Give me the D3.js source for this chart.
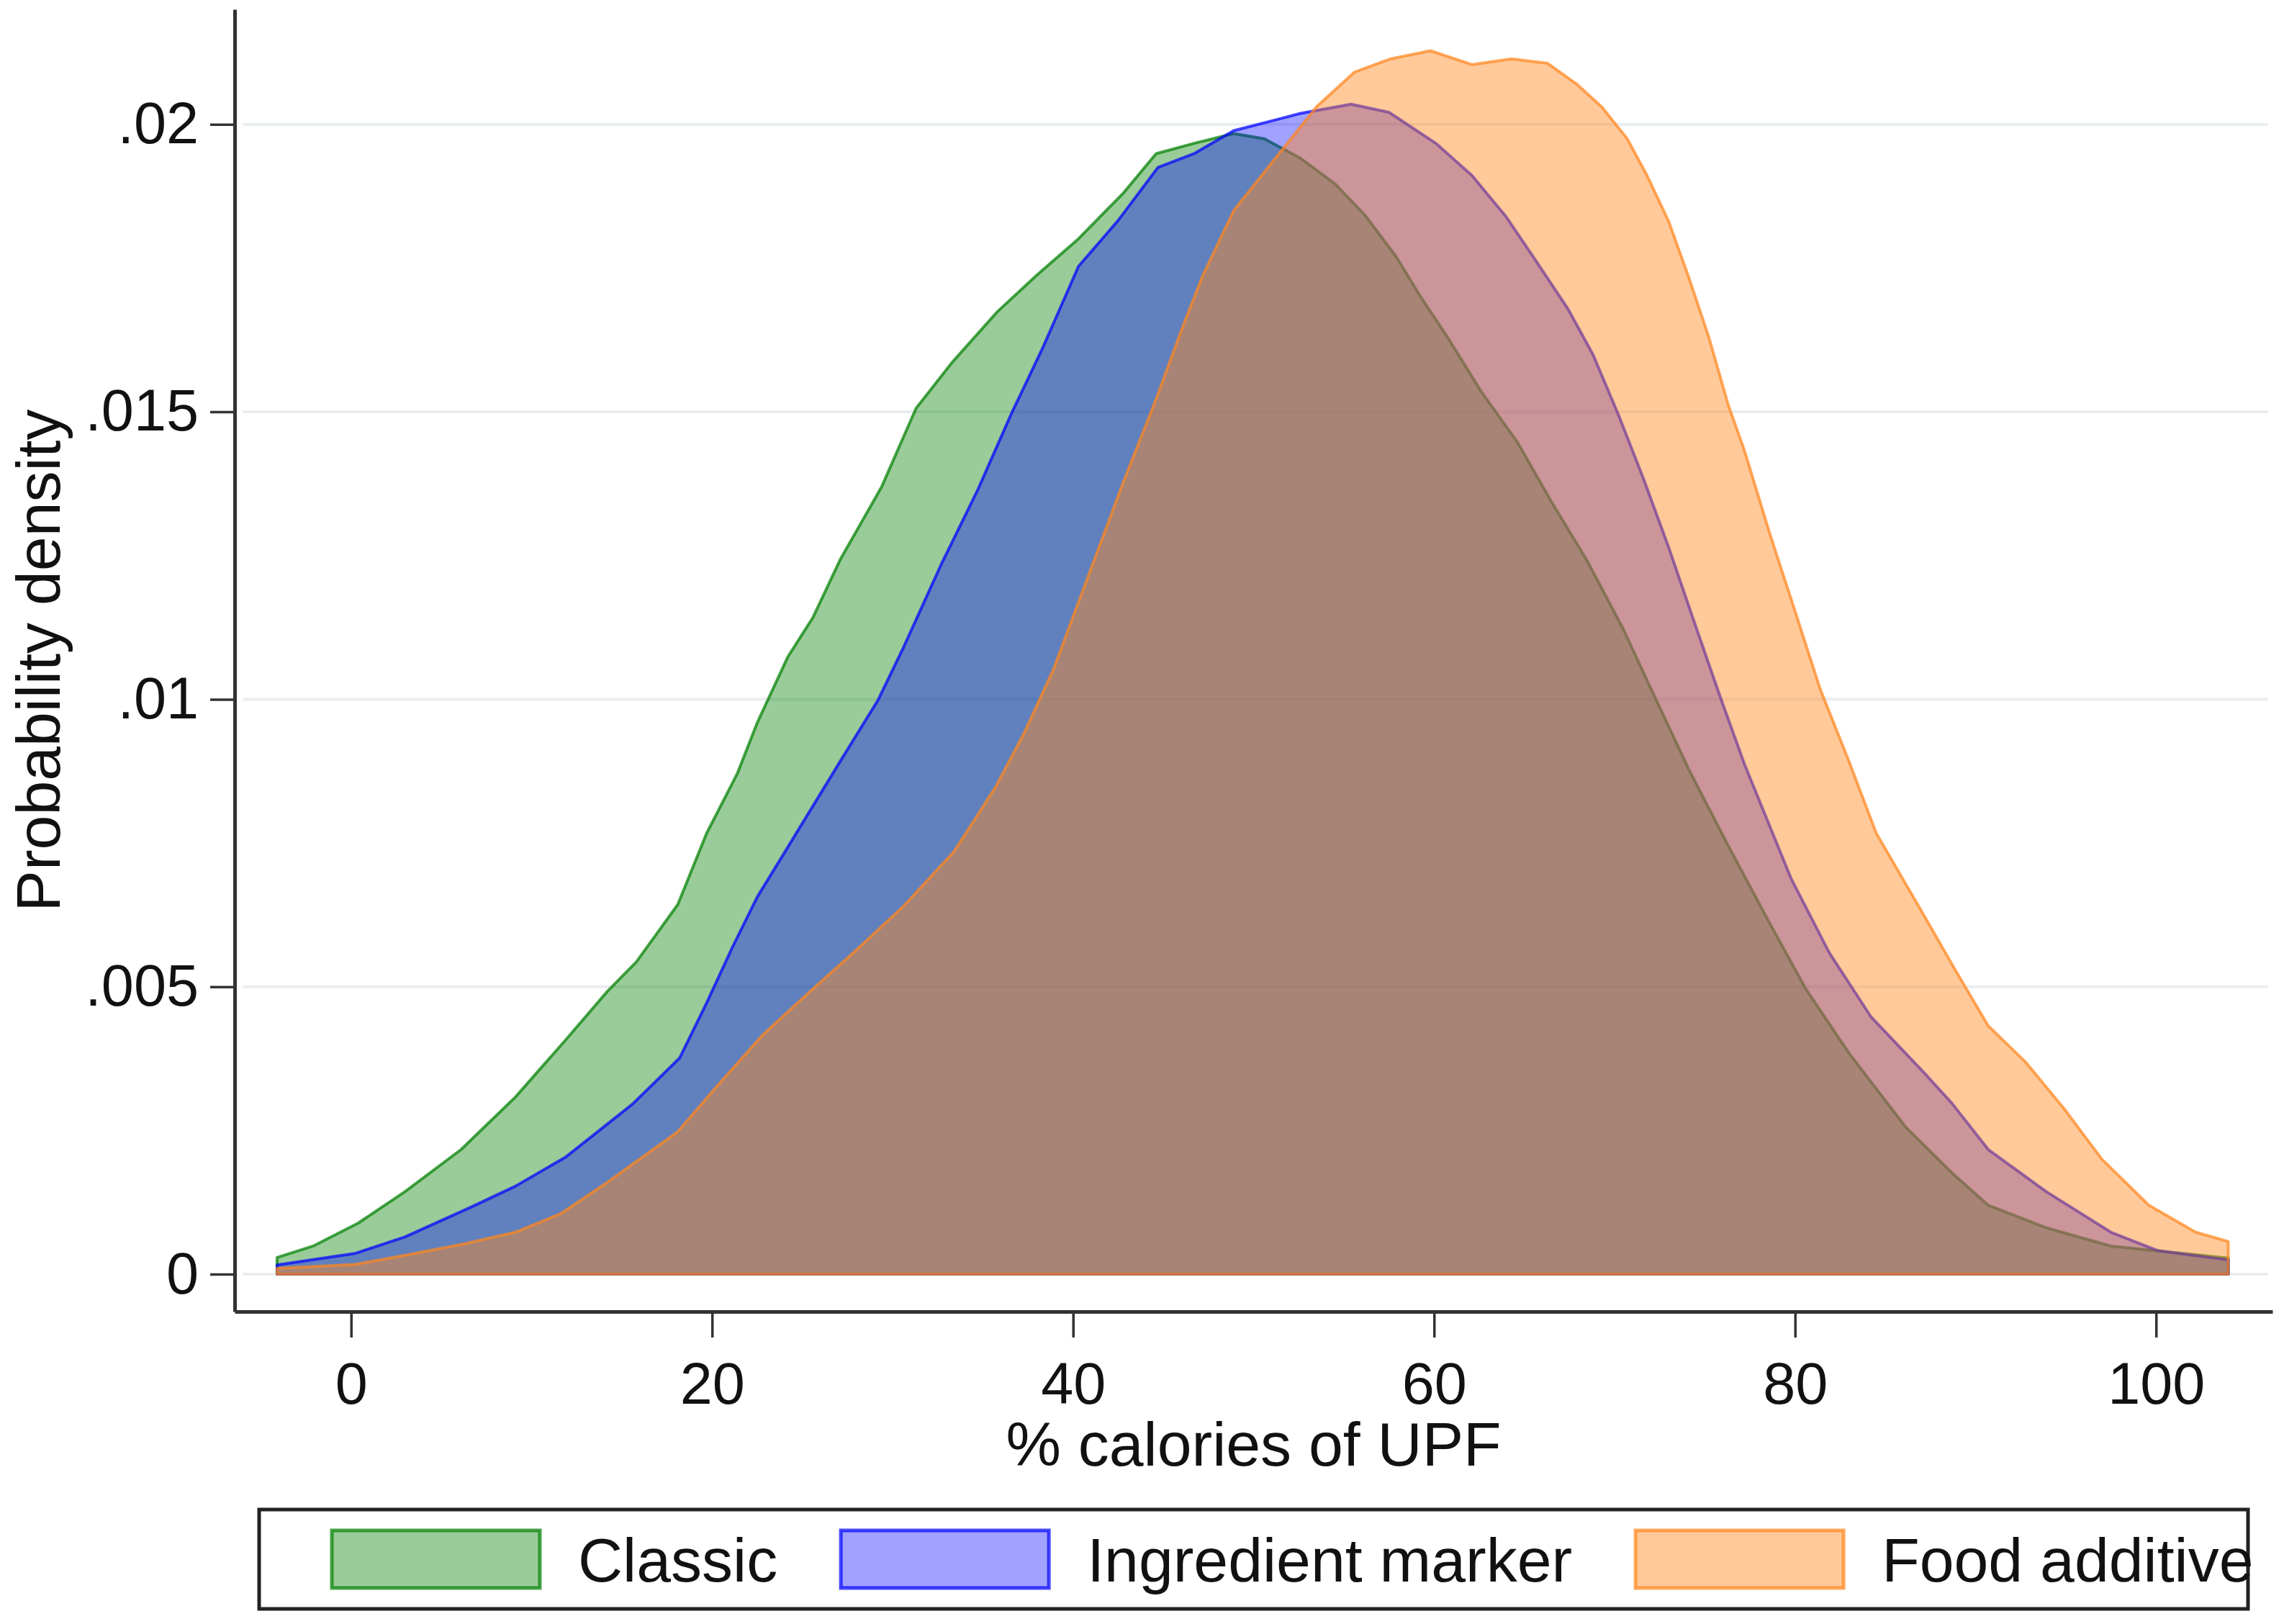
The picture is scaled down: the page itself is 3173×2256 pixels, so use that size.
<!DOCTYPE html>
<html>
<head>
<meta charset="utf-8">
<script src="https://cdn.jsdelivr.net/npm/d3@7"></script>
<style>
  body { margin: 0; background: #fff; }
  svg { display: block; font-family: "Liberation Sans", Arial, sans-serif; }
</style>
</head>
<body>
<div id="chart"></div>
<script>
/* DATA */
const seriesNames = ["Classic", "Ingredient marker", "Food additive"];
const seriesColors = ["rgb(0,128,0)", "rgb(0,0,255)", "rgb(255,135,30)"];
const seriesOpacity = [0.4, 0.37, 0.45];

const classicX = [-4.1, -2.1, 0.4, 3.0, 6.1, 9.1, 11.9, 14.2, 15.8, 18.1, 19.7, 21.4, 22.5, 24.2, 25.6, 27.1, 29.4, 31.3, 33.3, 35.8, 38.0, 40.3, 42.8, 44.6, 46.7, 48.9, 50.6, 52.6, 54.5, 56.2, 57.9, 59.3, 60.7, 62.6, 64.6, 66.5, 68.5, 70.5, 71.8, 74.1, 76.2, 78.5, 80.6, 83.0, 86.1, 88.7, 90.7, 93.9, 97.5, 104.0];
const classicY = [0.00029, 0.00049, 0.00089, 0.00144, 0.00217, 0.00308, 0.00408, 0.00492, 0.00543, 0.00643, 0.00767, 0.00871, 0.00959, 0.01074, 0.01143, 0.01243, 0.01370, 0.01506, 0.01586, 0.01674, 0.01738, 0.01801, 0.01881, 0.01949, 0.01967, 0.01984, 0.01975, 0.01941, 0.01897, 0.01841, 0.01770, 0.01698, 0.01632, 0.01536, 0.01448, 0.01344, 0.01240, 0.01121, 0.01033, 0.00879, 0.00751, 0.00616, 0.00496, 0.00384, 0.00257, 0.00176, 0.00120, 0.00081, 0.00049, 0.00028];

const markerX = [-4.1, 0.2, 3.0, 6.6, 9.1, 11.9, 15.6, 18.2, 19.7, 21.1, 22.5, 24.2, 27.0, 29.2, 30.6, 32.7, 34.7, 36.6, 38.3, 40.3, 42.5, 44.7, 46.7, 48.9, 52.6, 55.4, 57.5, 60.1, 62.1, 64.0, 65.7, 67.4, 68.8, 70.2, 71.6, 73.0, 74.4, 75.8, 77.2, 79.8, 81.9, 84.2, 87.1, 88.7, 90.7, 93.9, 97.5, 100.1, 104.0];
const markerY = [0.00016, 0.00036, 0.00065, 0.00116, 0.00153, 0.00204, 0.00296, 0.00376, 0.00472, 0.00567, 0.00656, 0.00743, 0.00887, 0.00999, 0.01090, 0.01235, 0.01363, 0.01498, 0.01610, 0.01753, 0.01833, 0.01925, 0.01949, 0.01989, 0.02019, 0.02035, 0.02021, 0.01967, 0.01911, 0.01839, 0.01760, 0.01680, 0.01600, 0.01496, 0.01384, 0.01264, 0.01136, 0.01009, 0.00887, 0.00687, 0.00559, 0.00448, 0.00352, 0.00297, 0.00217, 0.00144, 0.00073, 0.00041, 0.00025];

const additiveX = [-4.1, 0.2, 3.0, 6.3, 9.1, 11.6, 14.2, 18.1, 20.3, 22.8, 25.3, 28.1, 30.6, 33.4, 35.7, 37.3, 38.9, 40.8, 42.8, 44.5, 46.1, 47.2, 48.9, 50.9, 53.5, 55.6, 57.6, 59.8, 62.1, 64.3, 66.3, 67.9, 69.3, 70.7, 71.8, 73.0, 74.1, 75.2, 76.3, 77.2, 78.6, 80.0, 81.4, 82.95, 84.5, 86.85, 88.9, 90.7, 92.8, 94.9, 97.0, 99.6, 102.2, 104.0];
const additiveY = [0.00010, 0.00017, 0.00033, 0.00053, 0.00073, 0.00105, 0.00160, 0.00248, 0.00328, 0.00416, 0.00488, 0.00567, 0.00640, 0.00735, 0.00847, 0.00942, 0.01051, 0.01211, 0.01379, 0.01514, 0.01650, 0.01738, 0.01850, 0.01929, 0.02031, 0.02091, 0.02114, 0.02128, 0.02104, 0.02114, 0.02106, 0.02070, 0.02030, 0.01975, 0.01911, 0.01831, 0.01735, 0.01632, 0.01512, 0.01432, 0.01288, 0.01153, 0.01017, 0.00895, 0.00767, 0.00640, 0.00528, 0.00432, 0.00368, 0.00288, 0.00200, 0.00120, 0.00073, 0.00057];

const xTicks = [0, 20, 40, 60, 80, 100];
const yTicks = [0, 0.005, 0.01, 0.015, 0.02];
const yTickLabels = ["0", ".005", ".01", ".015", ".02"];

/* LAYOUT */
const width = 3173, height = 2256;
const plot = { left: 326, right: 3157, top: 13, bottom: 1822 };

const series = seriesNames.map((name, k) => ({
  name,
  color: seriesColors[k],
  opacity: seriesOpacity[k],
  pts: [[classicX, classicY], [markerX, markerY], [additiveX, additiveY]][k][0]
    .map((x, i, xs) => [x, [classicY, markerY, additiveY][k][i]])
}));

const xScale = d3.scaleLinear().domain([-6.45, 106.45]).range([plot.left, plot.right]);
const yScale = d3.scaleLinear().domain([-0.00065, 0.022]).range([plot.bottom, plot.top]);

const svg = d3.select("#chart").append("svg")
  .attr("width", width).attr("height", height)
  .attr("viewBox", `0 0 ${width} ${height}`);

svg.append("rect").attr("width", width).attr("height", height).attr("fill", "#fff");

// grid lines
svg.append("g")
  .selectAll("line")
  .data(yTicks)
  .join("line")
  .attr("x1", plot.left + 12).attr("x2", plot.right - 6)
  .attr("y1", d => yScale(d)).attr("y2", d => yScale(d))
  .attr("stroke", "#e9edf0").attr("stroke-width", 4);

// density areas (outline goes round the whole shape, baseline included)
const area = d3.area()
  .x(d => xScale(d[0]))
  .y0(yScale(0))
  .y1(d => yScale(d[1]))
  .curve(d3.curveLinear);

svg.append("g")
  .selectAll("path")
  .data(series)
  .join("path")
  .attr("d", d => area(d.pts))
  .attr("fill", d => d.color).attr("fill-opacity", d => d.opacity)
  .attr("stroke", d => d.color).attr("stroke-opacity", 0.72)
  .attr("stroke-width", 4).attr("stroke-linejoin", "round");

// axes
const yAxis = d3.axisLeft(yScale)
  .tickValues(yTicks)
  .tickFormat((d, i) => yTickLabels[i])
  .tickSize(34).tickSizeOuter(0).tickPadding(16);

const xAxis = d3.axisBottom(xScale)
  .tickValues(xTicks)
  .tickSize(36).tickSizeOuter(0).tickPadding(34);

const gy = svg.append("g").attr("transform", `translate(${plot.left},0)`).call(yAxis);
const gx = svg.append("g").attr("transform", `translate(0,${plot.bottom})`).call(xAxis);

[gx, gy].forEach(g => {
  g.select(".domain").attr("stroke", "#333").attr("stroke-width", 5);
  g.selectAll(".tick line").attr("stroke", "#333").attr("stroke-width", 3.5);
  g.selectAll(".tick text")
    .attr("fill", "#111")
    .style("font-family", "'Liberation Sans', Arial, sans-serif")
    .style("font-size", "81px");
});

// axis titles
svg.append("text")
  .attr("x", (plot.left + plot.right) / 2).attr("y", 2036)
  .attr("text-anchor", "middle")
  .style("font-size", "86px").attr("fill", "#111")
  .text("% calories of UPF");

svg.append("text")
  .attr("transform", `translate(83,${(plot.top + plot.bottom) / 2}) rotate(-90)`)
  .attr("text-anchor", "middle")
  .style("font-size", "86px").attr("fill", "#111")
  .text("Probability density");

// legend
const legend = svg.append("g");
legend.append("rect")
  .attr("x", 360).attr("y", 2097)
  .attr("width", 2763).attr("height", 138)
  .attr("fill", "#fff").attr("stroke", "#222").attr("stroke-width", 5);

let lx = 461;
series.forEach(s => {
  legend.append("rect")
    .attr("x", lx).attr("y", 2126)
    .attr("width", 289).attr("height", 80)
    .attr("fill", s.color).attr("fill-opacity", s.opacity)
    .attr("stroke", s.color).attr("stroke-opacity", 0.72).attr("stroke-width", 5);
  const t = legend.append("text")
    .attr("x", lx + 289 + 53).attr("y", 2197)
    .style("font-size", "86px").attr("fill", "#111")
    .text(s.name);
  lx = lx + 289 + 53 + t.node().getComputedTextLength() + 88;
});
</script>
</body>
</html>
